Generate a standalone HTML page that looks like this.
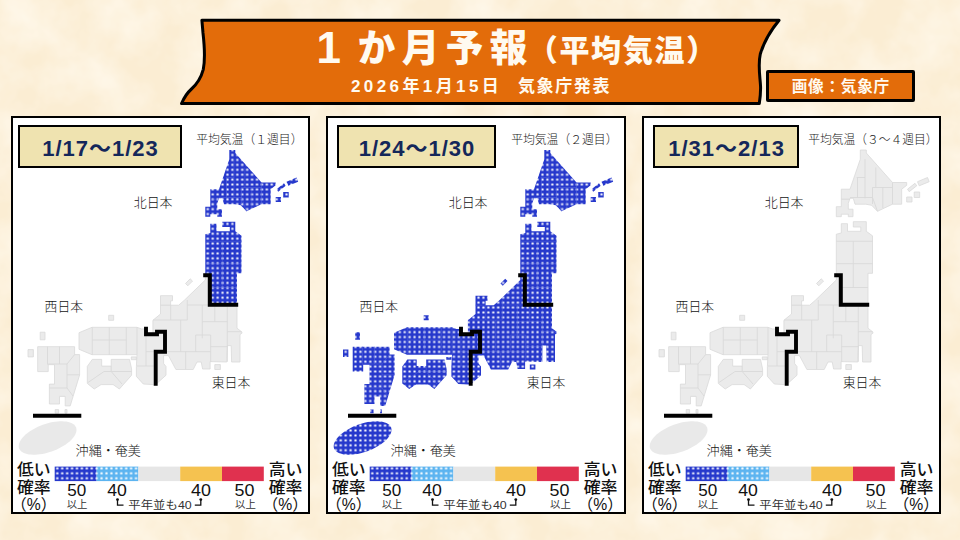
<!DOCTYPE html>
<html lang="ja"><head><meta charset="utf-8"><title>1か月予報（平均気温）</title>
<style>
html,body{margin:0;padding:0}
body{width:960px;height:540px;overflow:hidden;position:relative;background:#fbedd3;font-family:"Liberation Sans","Noto Sans CJK JP",sans-serif}
.bg{position:absolute;left:0;top:0}
.banner{position:absolute;left:0;top:0}
.title{position:absolute;left:0;top:0;width:960px;height:110px;color:#fffaf0;font-weight:700;white-space:nowrap}
.title span{position:absolute;line-height:1}
.t0{left:316.5px;top:25.5px;font-size:44px;font-weight:700}
.t1{left:357.7px;top:30px;font-size:37.5px;letter-spacing:6.5px;font-weight:900}
.t2{left:527.7px;top:36px;font-size:30px;letter-spacing:1.7px;font-weight:900}
.t3{left:351px;top:78.2px;font-size:17px;letter-spacing:3.4px}
.t4{left:518px;top:78.2px;font-size:17px;letter-spacing:1.6px}
.src{position:absolute;left:766px;top:70px;width:143px;height:26px;border:3px solid #000;border-radius:2px;background:#e36c0a;color:#fffaf0;font-weight:700;font-size:15.7px;line-height:27.5px;text-align:center;letter-spacing:.7px;text-indent:.7px;white-space:nowrap}
.panel{position:absolute;top:116px;width:295px;height:394px;border:2px solid #000;background:#fff}
.date{position:absolute;top:125.3px;width:159.7px;height:38.4px;border:2px solid #000;background:#efe3b0;color:#14275a;font-weight:700;font-size:22px;line-height:43.5px;text-align:center;letter-spacing:1px;text-indent:1px;white-space:nowrap}
.map{position:absolute}
</style></head><body>
<svg class="bg" width="960" height="540" viewBox="0 0 960 540"><filter id="pn" x="0" y="0" width="100%" height="100%" color-interpolation-filters="sRGB"><feTurbulence type="fractalNoise" baseFrequency="0.022" numOctaves="4" seed="7" result="n"/><feColorMatrix in="n" type="matrix" values="0 0 0 0 1  0 0 0 0 0.975  0 0 0 0 0.925  0 0 1.5 0 -0.45"/></filter><rect width="960" height="540" filter="url(#pn)"/></svg>
<svg class="banner" width="960" height="112" viewBox="0 0 960 112">
<path d="M201.9,20.2 H779.1 C771,30 763.5,43 760.3,54 C757.5,66 760.6,80 760.6,88 C760.6,94 760,99 759.3,103.5 H181.5 C184,98 187,93 191,89.5 C196,85 201,78 203.3,69.3 C205.5,58 203.8,40 203,33 C202.6,28 202.2,24 201.9,20.2 Z" fill="#e36c0a" stroke="#000" stroke-width="3" stroke-linejoin="round"/>
</svg>
<div class="title"><span class="t0">1</span><span class="t1">か月予報</span><span class="t2">（平均気温）</span><span class="t3">2026年1月15日　</span><span class="t4">気象庁発表</span></div>
<div class="src">画像：気象庁</div>
<div class="panel" style="left:11px"></div>
<div class="panel" style="left:326px;width:296px"></div>
<div class="panel" style="left:642px"></div>
<svg width="0" height="0" style="position:absolute"><defs>
<pattern id="dots" width="4.92" height="4.92" patternUnits="userSpaceOnUse" patternTransform="translate(-2.46 -2.81)"><rect width="4.92" height="4.92" fill="#2638cc"/><rect x="1.38" y="1.38" width="2.16" height="2.16" rx=".3" fill="#fff"/></pattern>
<pattern id="ldots" width="4.92" height="4.92" patternUnits="userSpaceOnUse" patternTransform="translate(-0.44 0.62)"><rect width="4.92" height="4.92" fill="#2638cc"/><rect x="1.36" y="1.36" width="2.2" height="2.2" rx=".4" fill="#fff"/></pattern>
<pattern id="ldots2" width="4.92" height="4.92" patternUnits="userSpaceOnUse" patternTransform="translate(-0.44 0.62)"><rect width="4.92" height="4.92" fill="#5cb4f0"/><rect x="1.36" y="1.36" width="2.2" height="2.2" rx=".4" fill="#fff"/></pattern>
</defs></svg>
<svg class="map" style="left:11px;top:116px" width="300" height="398" viewBox="0 0 300 398"><g shape-rendering="geometricPrecision"><path d="M218.3,34.0 L224.3,34.0 L224.3,37.0 L250.5,66.5 L264.7,66.5 L264.7,69.3 L259.7,73.2 L259.7,88.2 L250.5,88.2 L235.5,95.3 L229.7,89.3 L223.8,88.2 L213.0,88.2 L211.3,82.3 L208.0,82.3 L206.3,87.3 L206.3,93.2 L211.0,93.2 L211.0,100.7 L206.3,100.7 L206.3,98.2 L199.3,98.2 L199.3,100.7 L194.3,100.7 L194.3,90.7 L199.3,90.7 L199.3,73.2 L208.0,73.2 L218.3,43.2ZM265.5,73.2 L273.0,67.3 L274.7,69.8 L267.2,75.7ZM275.5,65.7 L285.5,61.5 L287.2,65.7 L277.2,69.8ZM272.2,76.0H277.7V81.5H272.2ZM264.7,81.0H270.0V86.0H264.7ZM199.3,107.7 L205.5,107.7 L205.5,115.3 L218.8,115.3 L218.8,111.0 L211.3,111.0 L211.3,105.7 L224.3,105.7 L224.3,115.3 L230.5,119.8 L230.5,157.3 L226.0,157.3 L226.0,188.8 L198.8,188.8 L198.8,159.2 L194.3,159.2 L194.3,118.2 L199.3,117.0Z" fill="url(#dots)"/><path d="M223.0,43.2 L223.0,82.3M233.8,51.5 L233.8,71.5M214.7,61.5 L223.0,61.5M215.5,61.5 L215.5,81.5M208.0,81.5 L230.5,81.5M230.5,71.5 L250.5,71.5M230.5,71.5 L230.5,88.0M240.8,71.5 L240.8,92.0M250.5,66.5 L250.5,88.2M230.5,81.5 L235.5,95.3M199.3,83.2 L208.0,83.2M194.3,125.3 L230.5,125.3M194.3,147.7 L230.5,147.7M198.8,171.5 L226.0,171.5M211.3,125.3 L211.3,171.5" fill="none" stroke="#5666dd" stroke-width="0.9" opacity=".55"/><path d="M198.8,188.8 L226.0,188.8 L226.0,212.2 L230.9,216.0 L230.9,217.2 L229.0,218.5 L229.0,246.0 L220.6,246.0 L220.2,229.6 L216.4,229.6 L215.8,246.0 L199.1,245.6 L199.1,253.0 L191.6,253.0 L190.2,246.0 L186.0,246.0 L182.2,253.5 L164.9,253.5 L157.5,239.6 L152.6,239.6 L152.6,247.5 L155.0,250.5 L155.0,259.2 L148.0,265.5 L144.7,268.6 L144.7,235.7 L154.0,235.7 L154.0,215.7 L146.0,215.7 L146.0,218.3 L141.9,218.3 L141.9,204.3 L149.5,198.0 L149.5,179.7 L161.5,179.7 L161.5,184.8 L159.6,184.8 L159.6,189.2 L167.7,189.2 L173.4,184.2 L194.3,164.0 L194.3,159.2 L198.8,159.2ZM203.8,248.6H209.4V253.5H203.8ZM174.5,167.5 L179.2,162.8 L181.5,165.1 L176.8,169.8Z" fill="#ebebeb" stroke="#d9d9d9" stroke-width="0.8"/><path d="M159.7,189.0 L159.7,204.0M176.3,184.0 L176.3,204.0M142.2,204.0 L176.3,204.0M176.3,189.0 L198.0,189.0M191.3,189.0 L191.3,222.3M169.7,204.0 L169.7,235.7M154.7,235.7 L199.7,235.7M184.7,219.0 L184.7,235.7M184.7,219.0 L199.7,219.0M199.7,219.0 L199.7,245.7M191.3,205.7 L216.3,205.7M203.8,190.7 L203.8,205.7M216.3,190.7 L216.3,245.7M199.7,230.7 L216.3,230.7M216.3,215.7 L230.5,215.7M174.7,235.7 L174.7,253.2M149.5,189.2 L159.6,189.2" fill="none" stroke="#d9d9d9" stroke-width="0.9"/><path d="M68.0,216.7 L81.0,211.3 L126.0,211.3 L130.4,212.9 L135.0,212.9 L135.0,218.3 L146.0,218.3 L146.0,215.7 L154.0,215.7 L154.0,235.7 L144.7,235.7 L144.7,268.6 L142.4,268.6 L132.3,268.0 L125.4,260.4 L125.4,250.4 L126.0,238.7 L81.0,238.7 L68.0,233.3ZM76.3,250.4 L81.3,243.4 L90.7,243.4 L90.7,250.1 L100.2,250.1 L100.2,243.4 L118.5,243.4 L120.6,252.9 L120.6,259.2 L108.4,273.0 L102.1,268.6 L90.1,268.6 L83.2,273.0 L76.3,267.4ZM26.7,230.7 L63.6,230.7 L63.6,238.6 L68.6,238.6 L68.6,259.0 L59.2,289.9 L54.2,289.9 L54.2,280.4 L48.5,280.4 L48.5,288.0 L38.4,288.0 L38.4,268.1 L43.5,268.1 L43.5,248.7 L37.2,248.7 L37.2,255.6 L26.7,255.6ZM120.3,240.9H125.4V243.7H120.3ZM97.7,199.3H102.7V204.3H97.7ZM29.2,216.2H34.0V223.8H29.2ZM17.0,233.6H22.4V240.9H17.0ZM44.2,293.6H47.6V297.2H44.2ZM54.0,293.6H56.0V297.2H54.0Z" fill="#ebebeb" stroke="#d9d9d9" stroke-width="0.8"/><path d="M81.3,211.3 L81.3,238.7M98.3,211.3 L98.3,238.7M115.3,211.3 L115.3,238.7M126.0,211.3 L126.0,238.7M81.3,224.0 L115.3,224.0M36.5,230.7 L36.5,248.7M48.5,230.7 L48.5,248.0M37.2,248.0 L56.0,248.0M63.6,238.6 L56.0,248.0M56.0,248.0 L56.0,272.0M56.0,258.8 L68.6,258.8M38.4,272.0 L56.0,272.0M56.0,272.0 L62.0,280.0M135.0,218.3 L135.0,250.0M126.0,250.0 L144.7,250.0M135.0,235.7 L144.7,235.7M100.2,250.1 L100.2,255.5M100.2,255.5 L120.6,255.5M77.0,266.5 L93.0,255.5M93.0,255.5 L100.2,255.5M100.2,255.5 L111.0,268.0" fill="none" stroke="#d9d9d9" stroke-width="0.9"/><path d="M65.1,311.6 L65.4,312.8 L65.5,314.1 L65.3,315.4 L65.0,316.8 L64.4,318.2 L63.7,319.6 L62.7,321.1 L61.5,322.5 L60.1,324.0 L58.6,325.4 L56.9,326.8 L55.0,328.2 L53.0,329.5 L50.8,330.8 L48.6,332.0 L46.3,333.2 L43.9,334.2 L41.4,335.2 L38.9,336.0 L36.4,336.8 L33.9,337.4 L31.4,337.9 L28.9,338.3 L26.5,338.6 L24.2,338.7 L22.0,338.7 L19.9,338.6 L17.9,338.4 L16.0,338.0 L14.3,337.6 L12.8,337.0 L11.5,336.2 L10.3,335.4 L9.4,334.5 L8.7,333.5 L8.1,332.4 L7.8,331.2 L7.7,329.9 L7.9,328.6 L8.2,327.2 L8.8,325.8 L9.5,324.4 L10.5,322.9 L11.7,321.5 L13.1,320.0 L14.6,318.6 L16.3,317.2 L18.2,315.8 L20.2,314.5 L22.4,313.2 L24.6,312.0 L26.9,310.8 L29.3,309.8 L31.8,308.8 L34.3,308.0 L36.8,307.2 L39.3,306.6 L41.8,306.1 L44.3,305.7 L46.7,305.4 L49.0,305.3 L51.2,305.3 L53.3,305.4 L55.3,305.6 L57.2,306.0 L58.9,306.4 L60.4,307.0 L61.7,307.8 L62.9,308.6 L63.8,309.5 L64.5,310.5Z" fill="#e9e9e9"/></g><g fill="none" stroke="#000" stroke-width="4" stroke-linejoin="miter"><path d="M192.2,159.2H198.8V188.8H227.2"/><path d="M135,210.8V218.3H146V215.7H154V235.7H144.7V269.8" stroke-width="3.9"/><path d="M22,299.8H70.3" stroke-width="4"/></g><g fill="#141414" font-weight="300" font-family="'Liberation Sans','Noto Sans CJK JP',sans-serif"><text x="185.2" y="27.9" font-size="12.4" textLength="106.3" lengthAdjust="spacingAndGlyphs" >平均気温（１週目）</text><text x="122.7" y="91.1" font-size="13" textLength="38.9" lengthAdjust="spacingAndGlyphs" >北日本</text><text x="33.6" y="195.3" font-size="13" textLength="38.4" lengthAdjust="spacingAndGlyphs" >西日本</text><text x="200.7" y="271.1" font-size="13" textLength="38.8" lengthAdjust="spacingAndGlyphs" >東日本</text><text x="64.6" y="338.7" font-size="13" textLength="65.2" lengthAdjust="spacingAndGlyphs" >沖縄・奄美</text></g><rect x="43.7" y="350.6" width="41.9" height="14.5" fill="url(#ldots)"/><rect x="85.6" y="350.6" width="41.8" height="14.5" fill="url(#ldots2)"/><rect x="127.4" y="350.6" width="41.8" height="14.5" fill="#e6e6e6"/><rect x="169.2" y="350.6" width="41.8" height="14.5" fill="#f5c250"/><rect x="211" y="350.6" width="41.8" height="14.5" fill="#e0314f"/><g fill="#111" font-weight="500" font-family="'Liberation Sans','Noto Sans CJK JP',sans-serif"><text x="6.0" y="359.3" font-size="15.5" textLength="33.6" lengthAdjust="spacingAndGlyphs" >低い</text><text x="6.0" y="377.3" font-size="15.5" textLength="33.6" lengthAdjust="spacingAndGlyphs" >確率</text><text x="257.7" y="359.3" font-size="15.5" textLength="33.8" lengthAdjust="spacingAndGlyphs" >高い</text><text x="257.7" y="377.3" font-size="15.5" textLength="33.8" lengthAdjust="spacingAndGlyphs" >確率</text></g><g fill="#111" font-family="'Liberation Sans','Noto Sans CJK JP',sans-serif"><text x="0.0" y="393.8" font-size="15.6" textLength="45.4" lengthAdjust="spacingAndGlyphs" >（%）</text><text x="251.5" y="393.8" font-size="15.6" textLength="45.4" lengthAdjust="spacingAndGlyphs" >（%）</text><text x="56.2" y="379.9" font-size="17" textLength="19.0" lengthAdjust="spacingAndGlyphs" >50</text><text x="96.3" y="379.9" font-size="17" textLength="19.6" lengthAdjust="spacingAndGlyphs" >40</text><text x="180.1" y="379.9" font-size="17" textLength="19.9" lengthAdjust="spacingAndGlyphs" >40</text><text x="223.5" y="379.9" font-size="17" textLength="19.9" lengthAdjust="spacingAndGlyphs" >50</text></g><g fill="#333" font-family="'Liberation Sans','Noto Sans CJK JP',sans-serif"><text x="55.7" y="392.2" font-size="10" textLength="20.7" lengthAdjust="spacingAndGlyphs" >以上</text><text x="224.0" y="392.2" font-size="10" textLength="20.8" lengthAdjust="spacingAndGlyphs" >以上</text><text x="117.3" y="393.2" font-size="11" textLength="63.4" lengthAdjust="spacingAndGlyphs" >平年並も40</text></g><g fill="none" stroke="#111" stroke-width="1.3"><path d="M106.5,384V389.2H112.5"/><path d="M189.8,384V389.2H183.8"/></g><circle cx="106.5" cy="383.6" r="1.4" fill="#111"/><circle cx="189.8" cy="383.6" r="1.4" fill="#111"/></svg>
<svg class="map" style="left:326px;top:116px" width="300" height="398" viewBox="0 0 300 398"><g shape-rendering="geometricPrecision"><path d="M218.3,34.0 L224.3,34.0 L224.3,37.0 L250.5,66.5 L264.7,66.5 L264.7,69.3 L259.7,73.2 L259.7,88.2 L250.5,88.2 L235.5,95.3 L229.7,89.3 L223.8,88.2 L213.0,88.2 L211.3,82.3 L208.0,82.3 L206.3,87.3 L206.3,93.2 L211.0,93.2 L211.0,100.7 L206.3,100.7 L206.3,98.2 L199.3,98.2 L199.3,100.7 L194.3,100.7 L194.3,90.7 L199.3,90.7 L199.3,73.2 L208.0,73.2 L218.3,43.2ZM265.5,73.2 L273.0,67.3 L274.7,69.8 L267.2,75.7ZM275.5,65.7 L285.5,61.5 L287.2,65.7 L277.2,69.8ZM272.2,76.0H277.7V81.5H272.2ZM264.7,81.0H270.0V86.0H264.7ZM199.3,107.7 L205.5,107.7 L205.5,115.3 L218.8,115.3 L218.8,111.0 L211.3,111.0 L211.3,105.7 L224.3,105.7 L224.3,115.3 L230.5,119.8 L230.5,157.3 L226.0,157.3 L226.0,188.8 L198.8,188.8 L198.8,159.2 L194.3,159.2 L194.3,118.2 L199.3,117.0Z" fill="url(#dots)"/><path d="M223.0,43.2 L223.0,82.3M233.8,51.5 L233.8,71.5M214.7,61.5 L223.0,61.5M215.5,61.5 L215.5,81.5M208.0,81.5 L230.5,81.5M230.5,71.5 L250.5,71.5M230.5,71.5 L230.5,88.0M240.8,71.5 L240.8,92.0M250.5,66.5 L250.5,88.2M230.5,81.5 L235.5,95.3M199.3,83.2 L208.0,83.2M194.3,125.3 L230.5,125.3M194.3,147.7 L230.5,147.7M198.8,171.5 L226.0,171.5M211.3,125.3 L211.3,171.5" fill="none" stroke="#5666dd" stroke-width="0.9" opacity=".55"/><path d="M198.8,188.8 L226.0,188.8 L226.0,212.2 L230.9,216.0 L230.9,217.2 L229.0,218.5 L229.0,246.0 L220.6,246.0 L220.2,229.6 L216.4,229.6 L215.8,246.0 L199.1,245.6 L199.1,253.0 L191.6,253.0 L190.2,246.0 L186.0,246.0 L182.2,253.5 L164.9,253.5 L157.5,239.6 L152.6,239.6 L152.6,247.5 L155.0,250.5 L155.0,259.2 L148.0,265.5 L144.7,268.6 L144.7,235.7 L154.0,235.7 L154.0,215.7 L146.0,215.7 L146.0,218.3 L141.9,218.3 L141.9,204.3 L149.5,198.0 L149.5,179.7 L161.5,179.7 L161.5,184.8 L159.6,184.8 L159.6,189.2 L167.7,189.2 L173.4,184.2 L194.3,164.0 L194.3,159.2 L198.8,159.2ZM203.8,248.6H209.4V253.5H203.8ZM174.5,167.5 L179.2,162.8 L181.5,165.1 L176.8,169.8Z" fill="url(#dots)"/><path d="M159.7,189.0 L159.7,204.0M176.3,184.0 L176.3,204.0M142.2,204.0 L176.3,204.0M176.3,189.0 L198.0,189.0M191.3,189.0 L191.3,222.3M169.7,204.0 L169.7,235.7M154.7,235.7 L199.7,235.7M184.7,219.0 L184.7,235.7M184.7,219.0 L199.7,219.0M199.7,219.0 L199.7,245.7M191.3,205.7 L216.3,205.7M203.8,190.7 L203.8,205.7M216.3,190.7 L216.3,245.7M199.7,230.7 L216.3,230.7M216.3,215.7 L230.5,215.7M174.7,235.7 L174.7,253.2M149.5,189.2 L159.6,189.2" fill="none" stroke="#5666dd" stroke-width="0.9" opacity=".55"/><path d="M68.0,216.7 L81.0,211.3 L126.0,211.3 L130.4,212.9 L135.0,212.9 L135.0,218.3 L146.0,218.3 L146.0,215.7 L154.0,215.7 L154.0,235.7 L144.7,235.7 L144.7,268.6 L142.4,268.6 L132.3,268.0 L125.4,260.4 L125.4,250.4 L126.0,238.7 L81.0,238.7 L68.0,233.3ZM76.3,250.4 L81.3,243.4 L90.7,243.4 L90.7,250.1 L100.2,250.1 L100.2,243.4 L118.5,243.4 L120.6,252.9 L120.6,259.2 L108.4,273.0 L102.1,268.6 L90.1,268.6 L83.2,273.0 L76.3,267.4ZM26.7,230.7 L63.6,230.7 L63.6,238.6 L68.6,238.6 L68.6,259.0 L59.2,289.9 L54.2,289.9 L54.2,280.4 L48.5,280.4 L48.5,288.0 L38.4,288.0 L38.4,268.1 L43.5,268.1 L43.5,248.7 L37.2,248.7 L37.2,255.6 L26.7,255.6ZM120.3,240.9H125.4V243.7H120.3ZM97.7,199.3H102.7V204.3H97.7ZM29.2,216.2H34.0V223.8H29.2ZM17.0,233.6H22.4V240.9H17.0ZM44.2,293.6H47.6V297.2H44.2ZM54.0,293.6H56.0V297.2H54.0Z" fill="url(#dots)"/><path d="M81.3,211.3 L81.3,238.7M98.3,211.3 L98.3,238.7M115.3,211.3 L115.3,238.7M126.0,211.3 L126.0,238.7M81.3,224.0 L115.3,224.0M36.5,230.7 L36.5,248.7M48.5,230.7 L48.5,248.0M37.2,248.0 L56.0,248.0M63.6,238.6 L56.0,248.0M56.0,248.0 L56.0,272.0M56.0,258.8 L68.6,258.8M38.4,272.0 L56.0,272.0M56.0,272.0 L62.0,280.0M135.0,218.3 L135.0,250.0M126.0,250.0 L144.7,250.0M135.0,235.7 L144.7,235.7M100.2,250.1 L100.2,255.5M100.2,255.5 L120.6,255.5M77.0,266.5 L93.0,255.5M93.0,255.5 L100.2,255.5M100.2,255.5 L111.0,268.0" fill="none" stroke="#5666dd" stroke-width="0.9" opacity=".55"/><path d="M65.1,311.6 L65.4,312.8 L65.5,314.1 L65.3,315.4 L65.0,316.8 L64.4,318.2 L63.7,319.6 L62.7,321.1 L61.5,322.5 L60.1,324.0 L58.6,325.4 L56.9,326.8 L55.0,328.2 L53.0,329.5 L50.8,330.8 L48.6,332.0 L46.3,333.2 L43.9,334.2 L41.4,335.2 L38.9,336.0 L36.4,336.8 L33.9,337.4 L31.4,337.9 L28.9,338.3 L26.5,338.6 L24.2,338.7 L22.0,338.7 L19.9,338.6 L17.9,338.4 L16.0,338.0 L14.3,337.6 L12.8,337.0 L11.5,336.2 L10.3,335.4 L9.4,334.5 L8.7,333.5 L8.1,332.4 L7.8,331.2 L7.7,329.9 L7.9,328.6 L8.2,327.2 L8.8,325.8 L9.5,324.4 L10.5,322.9 L11.7,321.5 L13.1,320.0 L14.6,318.6 L16.3,317.2 L18.2,315.8 L20.2,314.5 L22.4,313.2 L24.6,312.0 L26.9,310.8 L29.3,309.8 L31.8,308.8 L34.3,308.0 L36.8,307.2 L39.3,306.6 L41.8,306.1 L44.3,305.7 L46.7,305.4 L49.0,305.3 L51.2,305.3 L53.3,305.4 L55.3,305.6 L57.2,306.0 L58.9,306.4 L60.4,307.0 L61.7,307.8 L62.9,308.6 L63.8,309.5 L64.5,310.5Z" fill="url(#dots)"/></g><g fill="none" stroke="#000" stroke-width="4" stroke-linejoin="miter"><path d="M192.2,159.2H198.8V188.8H227.2"/><path d="M135,210.8V218.3H146V215.7H154V235.7H144.7V269.8" stroke-width="3.9"/><path d="M22,299.8H70.3" stroke-width="4"/></g><g fill="#141414" font-weight="300" font-family="'Liberation Sans','Noto Sans CJK JP',sans-serif"><text x="185.2" y="27.9" font-size="12.4" textLength="106.3" lengthAdjust="spacingAndGlyphs" >平均気温（２週目）</text><text x="122.7" y="91.1" font-size="13" textLength="38.9" lengthAdjust="spacingAndGlyphs" >北日本</text><text x="33.6" y="195.3" font-size="13" textLength="38.4" lengthAdjust="spacingAndGlyphs" >西日本</text><text x="200.7" y="271.1" font-size="13" textLength="38.8" lengthAdjust="spacingAndGlyphs" >東日本</text><text x="64.6" y="338.7" font-size="13" textLength="65.2" lengthAdjust="spacingAndGlyphs" >沖縄・奄美</text></g><rect x="43.7" y="350.6" width="41.9" height="14.5" fill="url(#ldots)"/><rect x="85.6" y="350.6" width="41.8" height="14.5" fill="url(#ldots2)"/><rect x="127.4" y="350.6" width="41.8" height="14.5" fill="#e6e6e6"/><rect x="169.2" y="350.6" width="41.8" height="14.5" fill="#f5c250"/><rect x="211" y="350.6" width="41.8" height="14.5" fill="#e0314f"/><g fill="#111" font-weight="500" font-family="'Liberation Sans','Noto Sans CJK JP',sans-serif"><text x="6.0" y="359.3" font-size="15.5" textLength="33.6" lengthAdjust="spacingAndGlyphs" >低い</text><text x="6.0" y="377.3" font-size="15.5" textLength="33.6" lengthAdjust="spacingAndGlyphs" >確率</text><text x="257.7" y="359.3" font-size="15.5" textLength="33.8" lengthAdjust="spacingAndGlyphs" >高い</text><text x="257.7" y="377.3" font-size="15.5" textLength="33.8" lengthAdjust="spacingAndGlyphs" >確率</text></g><g fill="#111" font-family="'Liberation Sans','Noto Sans CJK JP',sans-serif"><text x="0.0" y="393.8" font-size="15.6" textLength="45.4" lengthAdjust="spacingAndGlyphs" >（%）</text><text x="251.5" y="393.8" font-size="15.6" textLength="45.4" lengthAdjust="spacingAndGlyphs" >（%）</text><text x="56.2" y="379.9" font-size="17" textLength="19.0" lengthAdjust="spacingAndGlyphs" >50</text><text x="96.3" y="379.9" font-size="17" textLength="19.6" lengthAdjust="spacingAndGlyphs" >40</text><text x="180.1" y="379.9" font-size="17" textLength="19.9" lengthAdjust="spacingAndGlyphs" >40</text><text x="223.5" y="379.9" font-size="17" textLength="19.9" lengthAdjust="spacingAndGlyphs" >50</text></g><g fill="#333" font-family="'Liberation Sans','Noto Sans CJK JP',sans-serif"><text x="55.7" y="392.2" font-size="10" textLength="20.7" lengthAdjust="spacingAndGlyphs" >以上</text><text x="224.0" y="392.2" font-size="10" textLength="20.8" lengthAdjust="spacingAndGlyphs" >以上</text><text x="117.3" y="393.2" font-size="11" textLength="63.4" lengthAdjust="spacingAndGlyphs" >平年並も40</text></g><g fill="none" stroke="#111" stroke-width="1.3"><path d="M106.5,384V389.2H112.5"/><path d="M189.8,384V389.2H183.8"/></g><circle cx="106.5" cy="383.6" r="1.4" fill="#111"/><circle cx="189.8" cy="383.6" r="1.4" fill="#111"/></svg>
<svg class="map" style="left:642px;top:116px" width="300" height="398" viewBox="0 0 300 398"><g shape-rendering="geometricPrecision"><path d="M218.3,34.0 L224.3,34.0 L224.3,37.0 L250.5,66.5 L264.7,66.5 L264.7,69.3 L259.7,73.2 L259.7,88.2 L250.5,88.2 L235.5,95.3 L229.7,89.3 L223.8,88.2 L213.0,88.2 L211.3,82.3 L208.0,82.3 L206.3,87.3 L206.3,93.2 L211.0,93.2 L211.0,100.7 L206.3,100.7 L206.3,98.2 L199.3,98.2 L199.3,100.7 L194.3,100.7 L194.3,90.7 L199.3,90.7 L199.3,73.2 L208.0,73.2 L218.3,43.2ZM265.5,73.2 L273.0,67.3 L274.7,69.8 L267.2,75.7ZM275.5,65.7 L285.5,61.5 L287.2,65.7 L277.2,69.8ZM272.2,76.0H277.7V81.5H272.2ZM264.7,81.0H270.0V86.0H264.7ZM199.3,107.7 L205.5,107.7 L205.5,115.3 L218.8,115.3 L218.8,111.0 L211.3,111.0 L211.3,105.7 L224.3,105.7 L224.3,115.3 L230.5,119.8 L230.5,157.3 L226.0,157.3 L226.0,188.8 L198.8,188.8 L198.8,159.2 L194.3,159.2 L194.3,118.2 L199.3,117.0Z" fill="#ebebeb" stroke="#d9d9d9" stroke-width="0.8"/><path d="M223.0,43.2 L223.0,82.3M233.8,51.5 L233.8,71.5M214.7,61.5 L223.0,61.5M215.5,61.5 L215.5,81.5M208.0,81.5 L230.5,81.5M230.5,71.5 L250.5,71.5M230.5,71.5 L230.5,88.0M240.8,71.5 L240.8,92.0M250.5,66.5 L250.5,88.2M230.5,81.5 L235.5,95.3M199.3,83.2 L208.0,83.2M194.3,125.3 L230.5,125.3M194.3,147.7 L230.5,147.7M198.8,171.5 L226.0,171.5M211.3,125.3 L211.3,171.5" fill="none" stroke="#d9d9d9" stroke-width="0.9"/><path d="M198.8,188.8 L226.0,188.8 L226.0,212.2 L230.9,216.0 L230.9,217.2 L229.0,218.5 L229.0,246.0 L220.6,246.0 L220.2,229.6 L216.4,229.6 L215.8,246.0 L199.1,245.6 L199.1,253.0 L191.6,253.0 L190.2,246.0 L186.0,246.0 L182.2,253.5 L164.9,253.5 L157.5,239.6 L152.6,239.6 L152.6,247.5 L155.0,250.5 L155.0,259.2 L148.0,265.5 L144.7,268.6 L144.7,235.7 L154.0,235.7 L154.0,215.7 L146.0,215.7 L146.0,218.3 L141.9,218.3 L141.9,204.3 L149.5,198.0 L149.5,179.7 L161.5,179.7 L161.5,184.8 L159.6,184.8 L159.6,189.2 L167.7,189.2 L173.4,184.2 L194.3,164.0 L194.3,159.2 L198.8,159.2ZM203.8,248.6H209.4V253.5H203.8ZM174.5,167.5 L179.2,162.8 L181.5,165.1 L176.8,169.8Z" fill="#ebebeb" stroke="#d9d9d9" stroke-width="0.8"/><path d="M159.7,189.0 L159.7,204.0M176.3,184.0 L176.3,204.0M142.2,204.0 L176.3,204.0M176.3,189.0 L198.0,189.0M191.3,189.0 L191.3,222.3M169.7,204.0 L169.7,235.7M154.7,235.7 L199.7,235.7M184.7,219.0 L184.7,235.7M184.7,219.0 L199.7,219.0M199.7,219.0 L199.7,245.7M191.3,205.7 L216.3,205.7M203.8,190.7 L203.8,205.7M216.3,190.7 L216.3,245.7M199.7,230.7 L216.3,230.7M216.3,215.7 L230.5,215.7M174.7,235.7 L174.7,253.2M149.5,189.2 L159.6,189.2" fill="none" stroke="#d9d9d9" stroke-width="0.9"/><path d="M68.0,216.7 L81.0,211.3 L126.0,211.3 L130.4,212.9 L135.0,212.9 L135.0,218.3 L146.0,218.3 L146.0,215.7 L154.0,215.7 L154.0,235.7 L144.7,235.7 L144.7,268.6 L142.4,268.6 L132.3,268.0 L125.4,260.4 L125.4,250.4 L126.0,238.7 L81.0,238.7 L68.0,233.3ZM76.3,250.4 L81.3,243.4 L90.7,243.4 L90.7,250.1 L100.2,250.1 L100.2,243.4 L118.5,243.4 L120.6,252.9 L120.6,259.2 L108.4,273.0 L102.1,268.6 L90.1,268.6 L83.2,273.0 L76.3,267.4ZM26.7,230.7 L63.6,230.7 L63.6,238.6 L68.6,238.6 L68.6,259.0 L59.2,289.9 L54.2,289.9 L54.2,280.4 L48.5,280.4 L48.5,288.0 L38.4,288.0 L38.4,268.1 L43.5,268.1 L43.5,248.7 L37.2,248.7 L37.2,255.6 L26.7,255.6ZM120.3,240.9H125.4V243.7H120.3ZM97.7,199.3H102.7V204.3H97.7ZM29.2,216.2H34.0V223.8H29.2ZM17.0,233.6H22.4V240.9H17.0ZM44.2,293.6H47.6V297.2H44.2ZM54.0,293.6H56.0V297.2H54.0Z" fill="#ebebeb" stroke="#d9d9d9" stroke-width="0.8"/><path d="M81.3,211.3 L81.3,238.7M98.3,211.3 L98.3,238.7M115.3,211.3 L115.3,238.7M126.0,211.3 L126.0,238.7M81.3,224.0 L115.3,224.0M36.5,230.7 L36.5,248.7M48.5,230.7 L48.5,248.0M37.2,248.0 L56.0,248.0M63.6,238.6 L56.0,248.0M56.0,248.0 L56.0,272.0M56.0,258.8 L68.6,258.8M38.4,272.0 L56.0,272.0M56.0,272.0 L62.0,280.0M135.0,218.3 L135.0,250.0M126.0,250.0 L144.7,250.0M135.0,235.7 L144.7,235.7M100.2,250.1 L100.2,255.5M100.2,255.5 L120.6,255.5M77.0,266.5 L93.0,255.5M93.0,255.5 L100.2,255.5M100.2,255.5 L111.0,268.0" fill="none" stroke="#d9d9d9" stroke-width="0.9"/><path d="M65.1,311.6 L65.4,312.8 L65.5,314.1 L65.3,315.4 L65.0,316.8 L64.4,318.2 L63.7,319.6 L62.7,321.1 L61.5,322.5 L60.1,324.0 L58.6,325.4 L56.9,326.8 L55.0,328.2 L53.0,329.5 L50.8,330.8 L48.6,332.0 L46.3,333.2 L43.9,334.2 L41.4,335.2 L38.9,336.0 L36.4,336.8 L33.9,337.4 L31.4,337.9 L28.9,338.3 L26.5,338.6 L24.2,338.7 L22.0,338.7 L19.9,338.6 L17.9,338.4 L16.0,338.0 L14.3,337.6 L12.8,337.0 L11.5,336.2 L10.3,335.4 L9.4,334.5 L8.7,333.5 L8.1,332.4 L7.8,331.2 L7.7,329.9 L7.9,328.6 L8.2,327.2 L8.8,325.8 L9.5,324.4 L10.5,322.9 L11.7,321.5 L13.1,320.0 L14.6,318.6 L16.3,317.2 L18.2,315.8 L20.2,314.5 L22.4,313.2 L24.6,312.0 L26.9,310.8 L29.3,309.8 L31.8,308.8 L34.3,308.0 L36.8,307.2 L39.3,306.6 L41.8,306.1 L44.3,305.7 L46.7,305.4 L49.0,305.3 L51.2,305.3 L53.3,305.4 L55.3,305.6 L57.2,306.0 L58.9,306.4 L60.4,307.0 L61.7,307.8 L62.9,308.6 L63.8,309.5 L64.5,310.5Z" fill="#e9e9e9"/></g><g fill="none" stroke="#000" stroke-width="4" stroke-linejoin="miter"><path d="M192.2,159.2H198.8V188.8H227.2"/><path d="M135,210.8V218.3H146V215.7H154V235.7H144.7V269.8" stroke-width="3.9"/><path d="M22,299.8H70.3" stroke-width="4"/></g><g fill="#141414" font-weight="300" font-family="'Liberation Sans','Noto Sans CJK JP',sans-serif"><text x="166.3" y="27.9" font-size="12.4" textLength="129.3" lengthAdjust="spacingAndGlyphs" >平均気温（３～４週目）</text><text x="122.7" y="91.1" font-size="13" textLength="38.9" lengthAdjust="spacingAndGlyphs" >北日本</text><text x="33.6" y="195.3" font-size="13" textLength="38.4" lengthAdjust="spacingAndGlyphs" >西日本</text><text x="200.7" y="271.1" font-size="13" textLength="38.8" lengthAdjust="spacingAndGlyphs" >東日本</text><text x="64.6" y="338.7" font-size="13" textLength="65.2" lengthAdjust="spacingAndGlyphs" >沖縄・奄美</text></g><rect x="43.7" y="350.6" width="41.9" height="14.5" fill="url(#ldots)"/><rect x="85.6" y="350.6" width="41.8" height="14.5" fill="url(#ldots2)"/><rect x="127.4" y="350.6" width="41.8" height="14.5" fill="#e6e6e6"/><rect x="169.2" y="350.6" width="41.8" height="14.5" fill="#f5c250"/><rect x="211" y="350.6" width="41.8" height="14.5" fill="#e0314f"/><g fill="#111" font-weight="500" font-family="'Liberation Sans','Noto Sans CJK JP',sans-serif"><text x="6.0" y="359.3" font-size="15.5" textLength="33.6" lengthAdjust="spacingAndGlyphs" >低い</text><text x="6.0" y="377.3" font-size="15.5" textLength="33.6" lengthAdjust="spacingAndGlyphs" >確率</text><text x="257.7" y="359.3" font-size="15.5" textLength="33.8" lengthAdjust="spacingAndGlyphs" >高い</text><text x="257.7" y="377.3" font-size="15.5" textLength="33.8" lengthAdjust="spacingAndGlyphs" >確率</text></g><g fill="#111" font-family="'Liberation Sans','Noto Sans CJK JP',sans-serif"><text x="0.0" y="393.8" font-size="15.6" textLength="45.4" lengthAdjust="spacingAndGlyphs" >（%）</text><text x="251.5" y="393.8" font-size="15.6" textLength="45.4" lengthAdjust="spacingAndGlyphs" >（%）</text><text x="56.2" y="379.9" font-size="17" textLength="19.0" lengthAdjust="spacingAndGlyphs" >50</text><text x="96.3" y="379.9" font-size="17" textLength="19.6" lengthAdjust="spacingAndGlyphs" >40</text><text x="180.1" y="379.9" font-size="17" textLength="19.9" lengthAdjust="spacingAndGlyphs" >40</text><text x="223.5" y="379.9" font-size="17" textLength="19.9" lengthAdjust="spacingAndGlyphs" >50</text></g><g fill="#333" font-family="'Liberation Sans','Noto Sans CJK JP',sans-serif"><text x="55.7" y="392.2" font-size="10" textLength="20.7" lengthAdjust="spacingAndGlyphs" >以上</text><text x="224.0" y="392.2" font-size="10" textLength="20.8" lengthAdjust="spacingAndGlyphs" >以上</text><text x="117.3" y="393.2" font-size="11" textLength="63.4" lengthAdjust="spacingAndGlyphs" >平年並も40</text></g><g fill="none" stroke="#111" stroke-width="1.3"><path d="M106.5,384V389.2H112.5"/><path d="M189.8,384V389.2H183.8"/></g><circle cx="106.5" cy="383.6" r="1.4" fill="#111"/><circle cx="189.8" cy="383.6" r="1.4" fill="#111"/></svg>
<div class="date" style="left:18.2px">1/17～1/23</div>
<div class="date" style="left:337.1px;width:154.8px">1/24～1/30</div>
<div class="date" style="left:653.1px;width:142px">1/31～2/13</div>
</body></html>
